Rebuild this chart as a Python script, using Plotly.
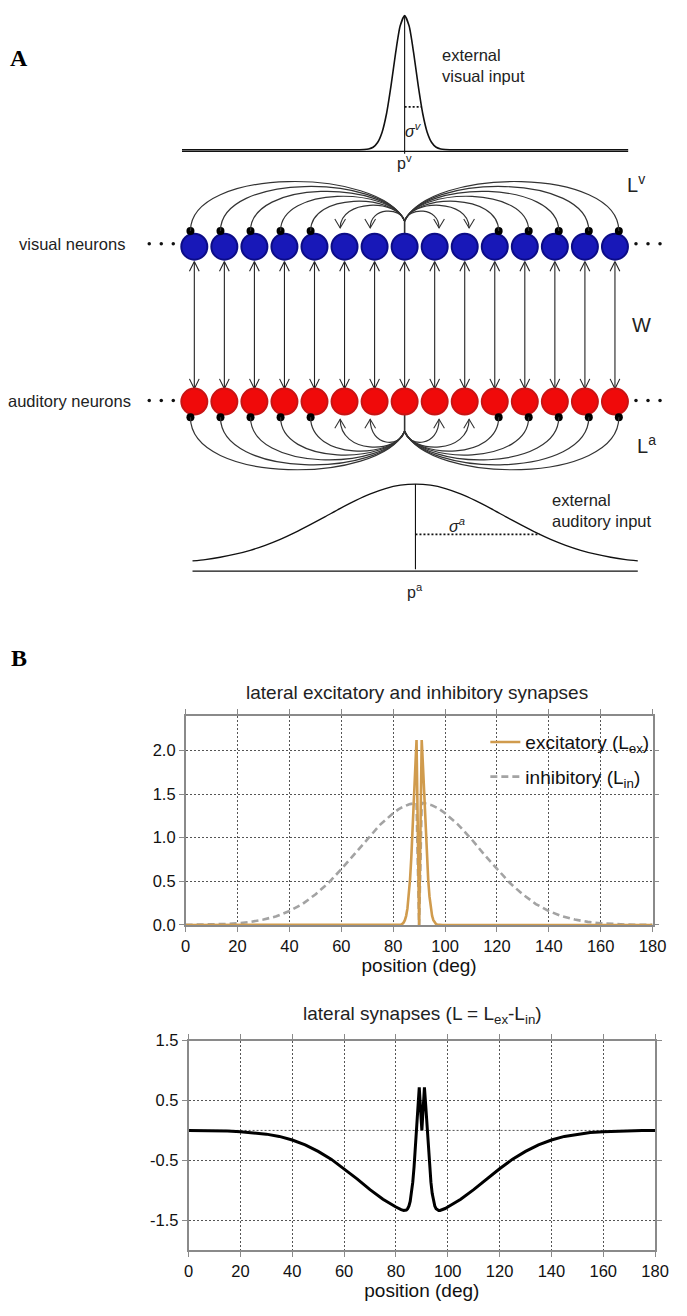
import plotly.graph_objects as go

# ============================ DATA ============================
# ---- Panel A : network schematic ----
neuron_offsets = list(range(-7, 8))              # neurons relative to the centre neuron
excitatory_targets = [-2, -1, 1, 2]              # lateral excitatory (arrow) connections
inhibitory_targets = [-7, -6, -5, -4, -3, 3, 4, 5, 6, 7]   # lateral inhibitory (dot) connections

# external visual input (offset from p^v in neuron spacings, relative amplitude)
visual_input_offset = [-7.41, -2.0, -1.5, -1.35, -1.2, -1.05, -0.9, -0.75, -0.6, -0.45, -0.3, -0.15, 0.0,
                       0.15, 0.3, 0.45, 0.6, 0.75, 0.9, 1.05, 1.2, 1.35, 1.5, 2.0, 7.44]
visual_input_value = [0, 0, 0.0003, 0.0014, 0.0055, 0.0186, 0.054, 0.131, 0.272, 0.481, 0.722, 0.922, 1.0,
                      0.922, 0.722, 0.481, 0.272, 0.131, 0.054, 0.0186, 0.0055, 0.0014, 0.0003, 0, 0]
visual_center = 0.0
sigma_v_level, sigma_v_half = 0.32, 0.56

# external auditory input (offset from p^a in neuron spacings, relative amplitude)
auditory_input_offset = [-7.42, -7.0, -6.5, -6.0, -5.5, -5.0, -4.5, -4.0, -3.5, -3.0, -2.5, -2.0, -1.5, -1.0, -0.5, 0.0,
                         0.5, 1.0, 1.5, 2.0, 2.5, 3.0, 3.5, 4.0, 4.5, 5.0, 5.5, 6.0, 6.5, 7.0, 7.4]
auditory_input_value = [0.042, 0.059, 0.088, 0.126, 0.175, 0.237, 0.311, 0.398, 0.494, 0.595, 0.698, 0.794, 0.878, 0.944, 0.986, 1.0,
                        0.986, 0.944, 0.878, 0.794, 0.698, 0.595, 0.494, 0.398, 0.311, 0.237, 0.175, 0.126, 0.088, 0.059, 0.043]
auditory_center = 0.36
sigma_a_level, sigma_a_half = 0.373, 4.14

# ---- Panel B : lateral synapses ----
pos_deg = [0, 5, 10, 15, 20, 25, 30, 35, 40, 45, 50, 55, 60, 65, 70, 75, 80, 81, 82, 83,
           83.5, 84, 84.5, 85, 85.5, 86, 86.5, 87, 87.5, 88, 88.5, 89, 90, 91, 91.5, 92, 92.5,
           93, 93.5, 94, 94.5, 95, 95.5, 96, 96.5, 97, 98, 99, 100, 105, 110, 115, 120, 125,
           130, 135, 140, 145, 150, 155, 160, 165, 170, 175, 180]
L_ex = [0, 0, 0, 0, 0, 0, 0, 0, 0, 0, 0, 0, 0, 0, 0, 0, 0, 0, 0, 0.005,
        0.012, 0.027, 0.055, 0.105, 0.19, 0.325, 0.52, 0.78, 1.10, 1.46, 1.81, 2.12, 0, 2.12, 1.81, 1.46, 1.10,
        0.78, 0.52, 0.325, 0.19, 0.105, 0.055, 0.027, 0.012, 0.005, 0, 0, 0, 0, 0, 0, 0, 0,
        0, 0, 0, 0, 0, 0, 0, 0, 0, 0, 0]
L_in = [0.001, 0.002, 0.005, 0.011, 0.020, 0.036, 0.062, 0.10, 0.16, 0.24, 0.35, 0.48, 0.64, 0.81, 0.99, 1.15, 1.28, 1.305, 1.324, 1.342,
        1.35, 1.357, 1.364, 1.37, 1.376, 1.381, 1.385, 1.389, 1.392, 1.395, 1.397, 1.399, 0, 1.399, 1.397, 1.395, 1.392,
        1.389, 1.385, 1.381, 1.376, 1.37, 1.364, 1.357, 1.35, 1.342, 1.324, 1.305, 1.28, 1.15, 0.99, 0.81, 0.64, 0.48,
        0.35, 0.24, 0.16, 0.10, 0.062, 0.036, 0.020, 0.011, 0.005, 0.002, 0.001]
L_net = [-0.001, -0.002, -0.005, -0.011, -0.020, -0.036, -0.062, -0.10, -0.16, -0.24, -0.35, -0.48, -0.64, -0.81, -0.99, -1.15, -1.28, -1.305, -1.324, -1.337,
         -1.338, -1.33, -1.309, -1.265, -1.186, -1.056, -0.865, -0.609, -0.292, 0.065, 0.413, 0.721, 0, 0.721, 0.413, 0.065, -0.292,
         -0.609, -0.865, -1.056, -1.186, -1.265, -1.309, -1.33, -1.338, -1.337, -1.324, -1.305, -1.28, -1.15, -0.99, -0.81, -0.64, -0.48,
         -0.35, -0.24, -0.16, -0.10, -0.062, -0.036, -0.020, -0.011, -0.005, -0.002, -0.001]
x_tick_vals = [0, 20, 40, 60, 80, 100, 120, 140, 160, 180]
top_y_ticks = [0, 0.5, 1.0, 1.5, 2.0]
top_y_labels = ["0.0", "0.5", "1.0", "1.5", "2.0"]
bot_y_ticks = [1.5, 0.5, -0.5, -1.5]
bot_y_labels = ["1.5", "0.5", "-0.5", "-1.5"]

# ============================ LAYOUT GEOMETRY ============================
W, H = 687, 1316
PX = 30.9            # pixels per neuron spacing
CX = 411.0           # pixel x of centre neuron
def pu(p):           # pixel distance -> neuron units
    return p / PX

VIS_Y, AUD_Y = 241, 398     # row positions (diagram axis is in page pixels, top-down)
SANS = "Liberation Sans, Arial, sans-serif"
INK = "#222222"
ARC = "#333333"

fig = go.Figure()

# ---------------- Panel A ----------------
xv = [visual_center + o for o in visual_input_offset]
fig.add_trace(go.Scatter(x=xv, y=visual_input_value, xaxis="x", yaxis="y2", mode="lines",
                         line=dict(color="#111", width=1.6, shape="spline", smoothing=0.6),
                         showlegend=False, hoverinfo="skip"))
fig.add_trace(go.Scatter(x=[xv[0], xv[-1]], y=[144.4, 144.4], xaxis="x", yaxis="y", mode="lines",
                         line=dict(color="#111", width=1.2), showlegend=False, hoverinfo="skip"))
fig.add_trace(go.Scatter(x=[visual_center, visual_center], y=[1.0, -0.03], xaxis="x", yaxis="y2", mode="lines",
                         line=dict(color="#111", width=1.1), showlegend=False, hoverinfo="skip"))
fig.add_trace(go.Scatter(x=[visual_center, visual_center + sigma_v_half], y=[sigma_v_level, sigma_v_level],
                         xaxis="x", yaxis="y2", mode="lines",
                         line=dict(color="#111", width=1.6, dash="2px,2px"), showlegend=False, hoverinfo="skip"))

xa = [auditory_center + o for o in auditory_input_offset]
fig.add_trace(go.Scatter(x=xa, y=auditory_input_value, xaxis="x", yaxis="y3", mode="lines",
                         line=dict(color="#111", width=1.3, shape="spline", smoothing=0.6),
                         showlegend=False, hoverinfo="skip"))
fig.add_trace(go.Scatter(x=[xa[0], xa[-1]], y=[570, 570], xaxis="x", yaxis="y", mode="lines",
                         line=dict(color="#111", width=1.2), showlegend=False, hoverinfo="skip"))
fig.add_trace(go.Scatter(x=[auditory_center, auditory_center], y=[1.0, -0.0615], xaxis="x", yaxis="y3", mode="lines",
                         line=dict(color="#111", width=1.1), showlegend=False, hoverinfo="skip"))
fig.add_trace(go.Scatter(x=[auditory_center, auditory_center + sigma_a_half], y=[sigma_a_level, sigma_a_level],
                         xaxis="x", yaxis="y3", mode="lines",
                         line=dict(color="#111", width=1.6, dash="2px,2px"), showlegend=False, hoverinfo="skip"))

# W connections (vertical double-arrows)
wx, wy = [], []
for k in neuron_offsets:
    wx += [k, k, None]
    wy += [257, 384, None]
    wx += [k - pu(5), k, k + pu(5), None]
    wy += [266, 256, 266, None]
    wx += [k - pu(5), k, k + pu(5), None]
    wy += [375, 385, 375, None]
fig.add_trace(go.Scatter(x=wx, y=wy, xaxis="x", yaxis="y", mode="lines",
                         line=dict(color="#222", width=1.1), showlegend=False, hoverinfo="skip"))

# lateral arcs
up_peak = {1: 205, 2: 199, 3: 195, 4: 190, 5: 185, 6: 180, 7: 175}
low_peak = {1: 439, 2: 444, 3: 448, 4: 452, 5: 457, 6: 462, 7: 467}
shapes = []
ahx, ahy = [], []
dot_x = []
for k in excitatory_targets + inhibitory_targets:
    d = abs(k)
    s = 1 if k > 0 else -1
    exc = k in excitatory_targets
    xe = k + s * pu(4.5 if exc else 4.0)
    y0, y3 = 215.0, (222.0 if exc else 225.0)
    yc = (8 * up_peak[d] - y0 - y3) / 6
    shapes.append(dict(type="path", xref="x", yref="y", layer="above",
                       path=f"M 0,{y0} C {0.12*k:.4f},{yc:.2f} {xe:.4f},{yc:.2f} {xe:.4f},{y3}",
                       line=dict(color=ARC, width=1.2)))
    y0b, y3b = 428.0, (416.0 if exc else 414.0)
    ycb = (8 * low_peak[d] - y0b - y3b) / 6
    shapes.append(dict(type="path", xref="x", yref="y", layer="above",
                       path=f"M 0,{y0b} C {0.12*k:.4f},{ycb:.2f} {xe:.4f},{ycb:.2f} {xe:.4f},{y3b}",
                       line=dict(color=ARC, width=1.2)))
    if exc:
        ahx += [xe - pu(5.5), xe, xe + pu(5.5), None, xe - pu(5.5), xe, xe + pu(5.5), None]
        ahy += [213, 222, 213, None, 425, 416, 425, None]
    else:
        dot_x.append(xe)
fig.add_trace(go.Scatter(x=[0, 0, None, 0, 0], y=[229, 214, None, 411, 429], xaxis="x", yaxis="y", mode="lines",
                         line=dict(color=ARC, width=1.6), showlegend=False, hoverinfo="skip"))
fig.add_trace(go.Scatter(x=ahx, y=ahy, xaxis="x", yaxis="y", mode="lines",
                         line=dict(color=ARC, width=1.1), showlegend=False, hoverinfo="skip"))

# neurons
fig.add_trace(go.Scatter(x=neuron_offsets, y=[VIS_Y] * len(neuron_offsets), xaxis="x", yaxis="y", mode="markers",
                         marker=dict(size=26, color="#1818B8", line=dict(color="#0C0C86", width=2)),
                         showlegend=False, hoverinfo="skip"))
fig.add_trace(go.Scatter(x=neuron_offsets, y=[AUD_Y] * len(neuron_offsets), xaxis="x", yaxis="y", mode="markers",
                         marker=dict(size=26, color="#F00A0A", line=dict(color="#C81414", width=2)),
                         showlegend=False, hoverinfo="skip"))
fig.add_trace(go.Scatter(x=dot_x + dot_x, y=[225] * len(dot_x) + [414] * len(dot_x), xaxis="x", yaxis="y",
                         mode="markers", marker=dict(size=8, color="#000"), showlegend=False, hoverinfo="skip"))
ell = [-8.5, -8.1, -7.7, 7.7, 8.1, 8.5]
fig.add_trace(go.Scatter(x=ell + ell, y=[238] * 6 + [397] * 6, xaxis="x", yaxis="y", mode="markers",
                         marker=dict(size=3.5, color="#111"), showlegend=False, hoverinfo="skip"))

# ---------------- Panel B ----------------
fig.add_trace(go.Scatter(x=pos_deg, y=L_in, xaxis="x4", yaxis="y4", mode="lines", name="inhibitory (L<sub>in</sub>)",
                         line=dict(color="#A3A3A3", width=2.6, dash="7px,4px"), legendrank=2, legendgroup="in"))
fig.add_trace(go.Scatter(x=pos_deg, y=L_ex, xaxis="x4", yaxis="y4", mode="lines", name="excitatory (L<sub>ex</sub>)",
                         line=dict(color="#D09B4D", width=2.6), legendrank=1, legendgroup="ex"))
fig.add_trace(go.Scatter(x=pos_deg, y=L_net, xaxis="x5", yaxis="y5", mode="lines", showlegend=False,
                         line=dict(color="#000", width=3)))
# unlabelled dotted reference line at L = 0
shapes.append(dict(type="line", xref="x5", yref="y5", x0=0, x1=180, y0=0, y1=0, layer="below",
                   line=dict(color="#555555", width=1, dash="2px,2px")))

# ---------------- annotations ----------------
ann = []
def txt(x, y, t, size=16.5, xanchor="center", yanchor="middle", xref="x", yref="y", family=SANS, align="left", color=INK):
    ann.append(dict(x=x, y=y, xref=xref, yref=yref, text=t, showarrow=False, xanchor=xanchor, yanchor=yanchor,
                    align=align, font=dict(family=family, size=size, color=color)))

txt(14 / W, 1 - 50 / H, "<b>A</b>", size=24, xref="paper", yref="paper", family="Liberation Serif, Times New Roman, serif", color="#000")
txt(14 / W, 1 - 658 / H, "<b>B</b>", size=24, xref="paper", yref="paper", family="Liberation Serif, Times New Roman, serif", color="#000")
txt(pu(447 - CX), 57.5, "external<br>visual input", xanchor="left")
txt(pu(561 - CX), 508, "external<br>auditory input", xanchor="left")
txt(pu(125 - CX), 238, "visual neurons", xanchor="right")
txt(pu(131.5 - CX), 397, "auditory neurons", xanchor="right")
txt(pu(420 - CX), 123, "<i>σ</i><sup><i>v</i></sup>", size=16)
txt(pu(465 - CX), 523, "<i>σ</i><sup><i>a</i></sup>", size=16)
txt(visual_center, 155, "p<sup>v</sup>", size=16)
txt(auditory_center, 590, "p<sup>a</sup>", size=16)
txt(pu(638 - CX), 177, "L<sup>v</sup>", size=20, xanchor="left")
txt(pu(655 - CX), 320, "W", size=20)
txt(pu(648 - CX), 442, "L<sup>a</sup>", size=20, xanchor="left")
txt(423.7 / W, 1 - 693.3 / H, "lateral excitatory and inhibitory synapses", size=19, xref="paper", yref="paper")
txt(429 / W, 1 - 1020 / H, "lateral synapses (L = L<sub>ex</sub>-L<sub>in</sub>)", size=19, xref="paper", yref="paper")

# ---------------- axes ----------------
hidden = dict(visible=False, showgrid=False, zeroline=False, fixedrange=True)
frame = dict(showgrid=True, gridcolor="#555555", griddash="2px,2px", gridwidth=1,
             showline=True, mirror="ticks", linecolor="#8A8A8A", linewidth=1.5,
             ticks="outside", ticklen=5, tickwidth=1.3, tickcolor="#8A8A8A", zeroline=False,
             tickfont=dict(family=SANS, size=16.5, color="#111"))

fig.update_layout(
    width=W, height=H, margin=dict(l=0, r=0, t=0, b=0),
    paper_bgcolor="white", plot_bgcolor="rgba(0,0,0,0)",
    shapes=shapes, annotations=ann,
    xaxis=dict(domain=[0, 1], range=[-CX / PX, (W - CX) / PX], anchor="y", **hidden),
    yaxis=dict(domain=[0, 1], range=[H, 0], anchor="x", **hidden),
    yaxis2=dict(domain=[1 - 160 / H, 1], range=[-0.1272, 1.0493], anchor="x", **hidden),
    yaxis3=dict(domain=[1 - 600 / H, 1 - 470 / H], range=[-0.4551, 1.1439], anchor="x", **hidden),
    xaxis4=dict(domain=[185.8 / W, 666 / W], range=[0, 180], anchor="y4", tickvals=x_tick_vals,
                title=dict(text="position (deg)", font=dict(family=SANS, size=19, color="#111"), standoff=4), **frame),
    yaxis4=dict(domain=[1 - 928.7 / H, 1 - 716.3 / H], range=[0, 2.4], anchor="x4",
                tickvals=top_y_ticks, ticktext=top_y_labels, **frame),
    xaxis5=dict(domain=[188.8 / W, 668.6 / W], range=[0, 180], anchor="y5", tickvals=x_tick_vals,
                title=dict(text="position (deg)", font=dict(family=SANS, size=19, color="#111"), standoff=4), **frame),
    yaxis5=dict(domain=[1 - 1258.3 / H, 1 - 1046 / H], range=[-2.0, 1.5], anchor="x5",
                tickvals=bot_y_ticks, ticktext=bot_y_labels, **frame),
    legend=dict(x=494 / W, y=1 - 724 / H, xanchor="left", yanchor="top", bgcolor="rgba(0,0,0,0)",
                font=dict(family=SANS, size=19, color="#111"), tracegroupgap=7),
    showlegend=True,
)

fig.write_html("out.html", config={"displayModeBar": False},
               post_script="document.body.style.margin='0px';document.body.style.padding='0px';"
                           "document.documentElement.style.overflow='hidden';")
